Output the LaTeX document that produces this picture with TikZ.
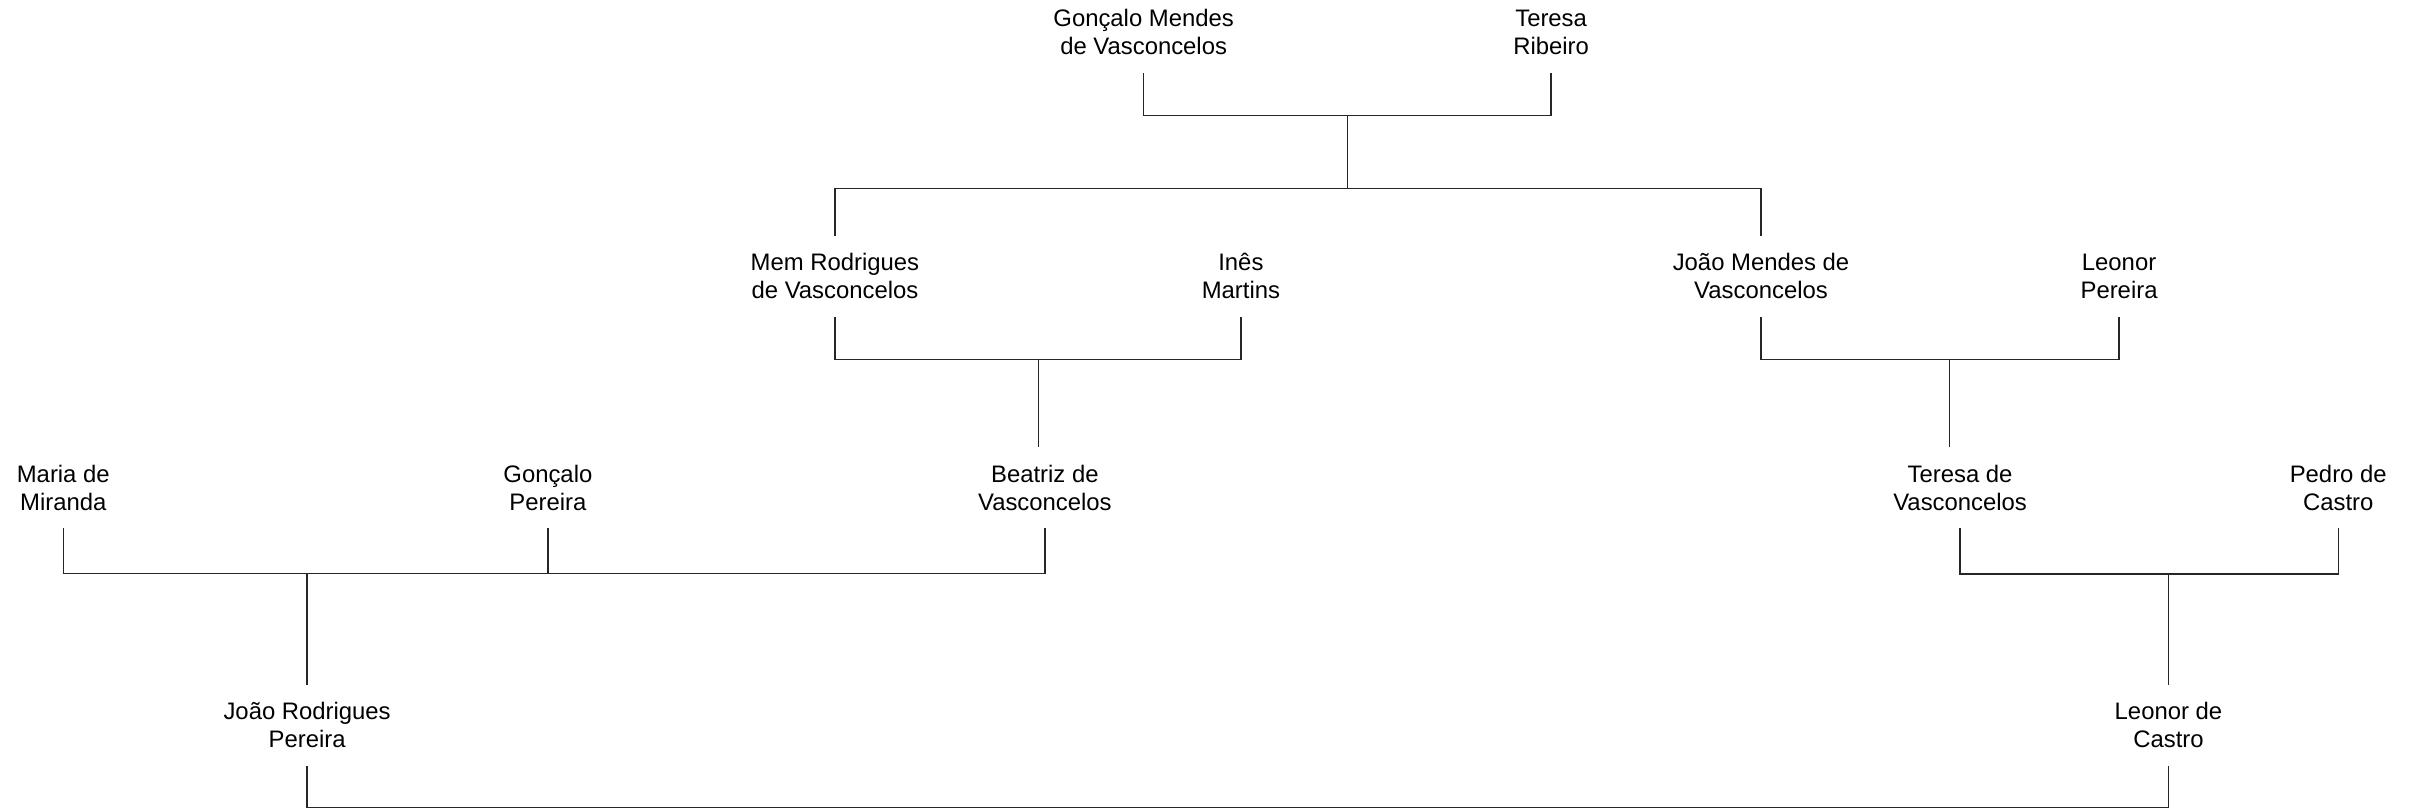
\documentclass[tikz,border=0pt]{standalone}
\usepackage{fontspec}
\setmainfont{Liberation Sans}
\usetikzlibrary{positioning}

\begin{document}
\begin{tikzpicture}[
  person/.style={align=center, inner sep=0pt, minimum height=1.04cm, font=\fontsize{8.8}{10.3}\selectfont},
  link/.style={draw=black!85, line width=0.5pt}
]
  \useasboundingbox (0,0) rectangle (31.36,-10.5);

  % generation 1
  \node[person] (gmv) at (14.82,-0.42) {Gonçalo Mendes\\ de Vasconcelos};
  \node[person] (trib) at (20.10,-0.42) {Teresa\\ Ribeiro};

  % generation 2
  \node[person] (mem) at (10.82,-3.58) {Mem Rodrigues\\ de Vasconcelos};
  \node[person] (ines) at (16.08,-3.58) {Inês\\ Martins};
  \node[person] (jmv) at (22.82,-3.58) {João Mendes de\\ Vasconcelos};
  \node[person] (lpe) at (27.46,-3.58) {Leonor\\ Pereira};

  % generation 3
  \node[person] (mar) at (0.82,-6.32) {Maria de\\ Miranda};
  \node[person] (gpe) at (7.10,-6.32) {Gonçalo\\ Pereira};
  \node[person] (bea) at (13.54,-6.32) {Beatriz de\\ Vasconcelos};
  \node[person] (tdv) at (25.40,-6.32) {Teresa de\\ Vasconcelos};
  \node[person] (pdc) at (30.30,-6.32) {Pedro de\\ Castro};

  % generation 4
  \node[person] (jrp) at (3.98,-9.40) {João Rodrigues\\ Pereira};
  \node[person] (ldc) at (28.10,-9.40) {Leonor de\\ Castro};

  % unions
  \coordinate (u1) at (17.46,-1.50);
  \coordinate (s1) at (17.46,-2.44);
  \coordinate (u2) at (13.46,-4.66);
  \coordinate (u3) at (25.26,-4.66);
  \coordinate (u4) at (3.98,-7.43);
  \coordinate (u5) at (28.10,-7.44);
  \coordinate (u6) at (3.98,-10.46);

  \draw[link] (gmv.south) |- (u1) -| (trib.south);
  \draw[link] (u1) -- (s1);
  \draw[link] (mem.north) |- (s1) -| (jmv.north);

  \draw[link] (mem.south) |- (u2) -| (ines.south);
  \draw[link] (u2) -- (u2 |- bea.north);
  \draw[link] (jmv.south) |- (u3) -| (lpe.south);
  \draw[link] (u3) -- (u3 |- tdv.north);

  \draw[link] (mar.south) |- (u4) -| (bea.south);
  \draw[link] (gpe.south) -- (gpe.south |- u4);
  \draw[link] (u4) -- (jrp.north);
  \draw[link] (tdv.south) |- (u5) -| (pdc.south);
  \draw[link] (u5) -- (ldc.north);

  \draw[link] (jrp.south) -- (u6) -| (ldc.south);
\end{tikzpicture}
\end{document}
